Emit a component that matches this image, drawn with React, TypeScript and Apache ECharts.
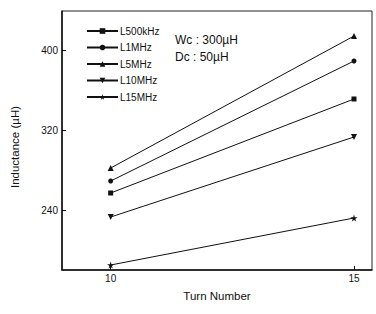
import React, { useEffect, useRef } from "react";
import * as echarts from "echarts";

const turns = [10, 15];
const seriesNames = ["L500kHz", "L1MHz", "L5MHz", "L10MHz", "L15MHz"];
const L500kHz = [257, 351];
const L1MHz = [269, 389];
const L5MHz = [282, 414];
const L10MHz = [233, 313];
const L15MHz = [185, 232];
const xTicks = [10, 15];
const yTicks = [240, 320, 400];
const noteLines = ["Wc : 300\u00b5H", "Dc : 50\u00b5H"];
const yTitle = "Inductance (\u00b5H)";
const xTitle = "Turn Number";

const STAR =
  "path://M50,0 L61,35 L98,35 L68,57 L79,91 L50,70 L21,91 L32,57 L2,35 L39,35 Z";

const FONT = "'Liberation Sans', Arial, sans-serif";

export default function App() {
  const ref = useRef<HTMLDivElement>(null);
  useEffect(() => {
    if (!ref.current) return;
    const chart = echarts.init(ref.current, null, { renderer: "svg" });
    const values = [L500kHz, L1MHz, L5MHz, L10MHz, L15MHz];
    const symbols = ["rect", "circle", "triangle", "triangle", STAR];
    const rotates = [0, 0, 0, 180, 0];
    const sizes = [5, 5, 6, 6, 7];
    chart.setOption({
      animation: false,
      textStyle: { fontFamily: FONT },
      grid: {
        left: 62,
        top: 11,
        width: 310,
        height: 259,
        show: true,
        borderColor: "#222",
        borderWidth: 1,
        backgroundColor: "transparent",
      },
      legend: {
        orient: "vertical",
        left: 86,
        top: 26,
        padding: 0,
        itemWidth: 31,
        itemHeight: 7,
        itemGap: 6.5,
        textStyle: { fontSize: 10, color: "#111", fontFamily: FONT, padding: [0, 0, 0, -3] },
        data: seriesNames,
      },
      xAxis: {
        type: "value",
        min: 9,
        max: 15.37,
        name: xTitle,
        nameLocation: "middle",
        nameGap: 20,
        nameTextStyle: { fontSize: 11.5, color: "#111", fontFamily: FONT },
        axisLine: { show: true, lineStyle: { color: "#111", width: 1.5 } },
        axisTick: { show: true, inside: true, length: 4, customValues: xTicks, lineStyle: { color: "#111" } },
        axisLabel: { customValues: xTicks, fontSize: 10, color: "#111", margin: 3, fontFamily: FONT },
        splitLine: { show: false },
      },
      yAxis: {
        type: "value",
        min: 180,
        max: 439,
        axisLine: { show: true, lineStyle: { color: "#111", width: 1.5 } },
        axisTick: { show: true, inside: true, length: 4, customValues: yTicks, lineStyle: { color: "#111" } },
        axisLabel: { customValues: yTicks, fontSize: 10, color: "#111", margin: 4, fontFamily: FONT },
        splitLine: { show: false },
      },
      graphic: [
        {
          type: "text",
          left: 175,
          top: 31,
          style: {
            text: noteLines.join("\n"),
            fontSize: 12,
            lineHeight: 17,
            fill: "#111",
            fontFamily: FONT,
          },
        },
        {
          type: "text",
          x: 15,
          y: 147,
          rotation: Math.PI / 2,
          style: {
            text: yTitle,
            fontSize: 11.5,
            fill: "#111",
            fontFamily: FONT,
            align: "center",
            verticalAlign: "middle",
          },
        },
      ],
      series: seriesNames.map((name, i) => ({
        name,
        type: "line",
        data: turns.map((t, j) => [t, values[i][j]]),
        symbol: symbols[i],
        symbolRotate: rotates[i],
        symbolSize: sizes[i],
        showSymbol: true,
        lineStyle: { color: "#111", width: 1 },
        itemStyle: { color: "#111" },
      })),
    });
    return () => chart.dispose();
  }, []);
  return (
    <div
      ref={ref}
      style={{ position: "fixed", left: 0, top: 0, width: 376, height: 314, background: "#fff" }}
    />
  );
}
